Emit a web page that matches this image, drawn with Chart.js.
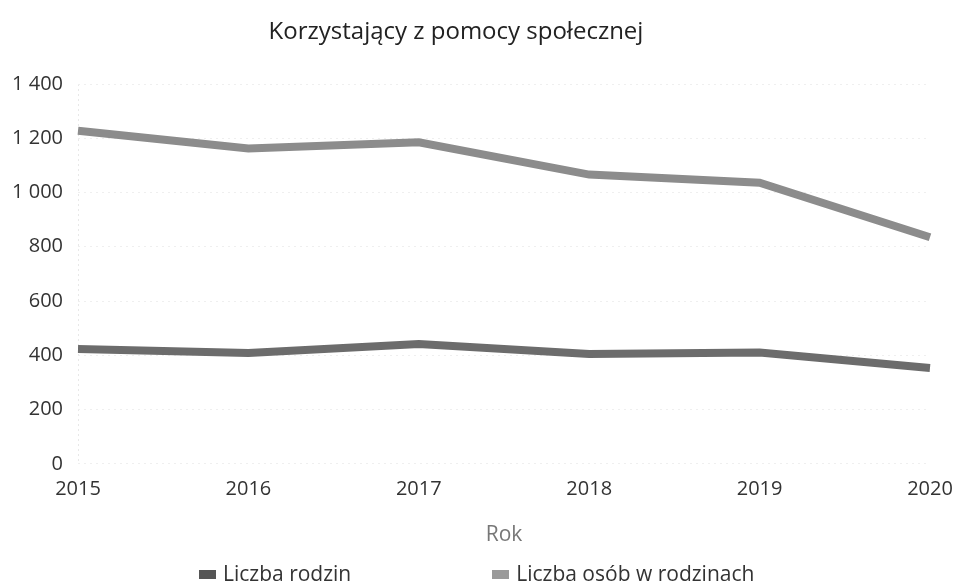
<!DOCTYPE html>
<html lang="pl">
<head>
<meta charset="utf-8">
<title>Korzystający z pomocy społecznej</title>
<script src="https://cdn.jsdelivr.net/npm/chart.js@4.4.1/dist/chart.umd.min.js"></script>
<style>
    html, body { margin: 0; padding: 0; background: #fff; }
    #wrap { position: relative; width: 954px; height: 587px; }
    #legend {
        position: absolute; left: 199px; top: 559px;
        display: flex; gap: 141px; line-height: 24px;
        font: 21px "Open Sans", sans-serif; color: #333;
    }
    #legend span.box { display: inline-block; width: 17px; height: 9px; margin-right: 7px; vertical-align: 2px; }
</style>
</head>
<body>
<div id="wrap">
    <canvas id="chart" width="954" height="587"></canvas>
    <div id="legend"></div>
</div>
<script>
const years = ['2015', '2016', '2017', '2018', '2019', '2020'];
const families = [423, 408, 442, 405, 410, 353];
const persons = [1228, 1162, 1185, 1066, 1036, 835];
const yTicks = [0, 200, 400, 600, 800, 1000, 1200, 1400];

const chartTitle = 'Korzystający z pomocy społecznej';
const axisTitle = 'Rok';
const seriesNames = ['Liczba rodzin', 'Liczba osób w rodzinach'];
const seriesColors = ['#6c6c6c', '#8c8c8c'];
const legendColors = ['#555555', '#9a9a9a'];

const FONT = '"Open Sans", sans-serif';

function spaced(v) {
    return String(v).replace(/\B(?=(\d{3})+(?!\d))/g, ' ');
}

// the title in the picture sits a bit left of the canvas centre
const titlePlugin = {
    id: 'shiftedTitle',
    afterDraw(chart) {
        const ctx = chart.ctx;
        ctx.save();
        ctx.font = '24px ' + FONT;
        ctx.fillStyle = '#222';
        ctx.textAlign = 'center';
        ctx.textBaseline = 'alphabetic';
        ctx.fillText(chartTitle, 456, 39);
        ctx.restore();
    }
};

new Chart(document.getElementById('chart'), {
    type: 'line',
    data: {
        labels: years,
        datasets: [
            { label: seriesNames[0], data: families, borderColor: seriesColors[0], backgroundColor: seriesColors[0] },
            { label: seriesNames[1], data: persons, borderColor: seriesColors[1], backgroundColor: seriesColors[1] }
        ]
    },
    plugins: [titlePlugin],
    options: {
        responsive: false,
        animation: false,
        layout: { padding: { top: 84, right: 24, bottom: 39, left: 0 } },
        elements: {
            line: { borderWidth: 8, tension: 0, borderCapStyle: 'butt', borderJoinStyle: 'miter' },
            point: { radius: 0, hoverRadius: 0 }
        },
        plugins: {
            legend: { display: false },
            tooltip: { enabled: false },
            title: { display: false }
        },
        scales: {
            x: {
                offset: false,
                afterFit: (scale) => { scale.paddingLeft = 0; scale.paddingRight = 0; },
                grid: { color: (ctx) => ctx.index === 0 ? '#e8e8e8' : 'rgba(0,0,0,0)', drawTicks: false },
                border: { display: false, dash: [2, 3] },
                ticks: { color: '#333', font: { family: FONT, size: 20 }, padding: 13, maxRotation: 0 },
                title: {
                    display: true, text: axisTitle, color: '#777',
                    font: { family: FONT, size: 21 }, padding: { top: 9, bottom: 0 }
                }
            },
            y: {
                min: 0, max: 1400,
                afterBuildTicks: (scale) => { scale.ticks = yTicks.map(v => ({ value: v })); },
                afterFit: (scale) => { scale.width = 78; },
                grid: { color: '#efefef', drawTicks: false },
                border: { display: false, dash: [2, 4] },
                ticks: {
                    color: '#333', font: { family: FONT, size: 20 }, padding: 15,
                    callback: (v) => spaced(v)
                }
            }
        }
    }
});

const legendEl = document.getElementById('legend');
seriesNames.forEach((name, i) => {
    const item = document.createElement('div');
    const box = document.createElement('span');
    box.className = 'box';
    box.style.background = legendColors[i];
    item.appendChild(box);
    item.appendChild(document.createTextNode(name));
    legendEl.appendChild(item);
});
</script>
</body>
</html>
